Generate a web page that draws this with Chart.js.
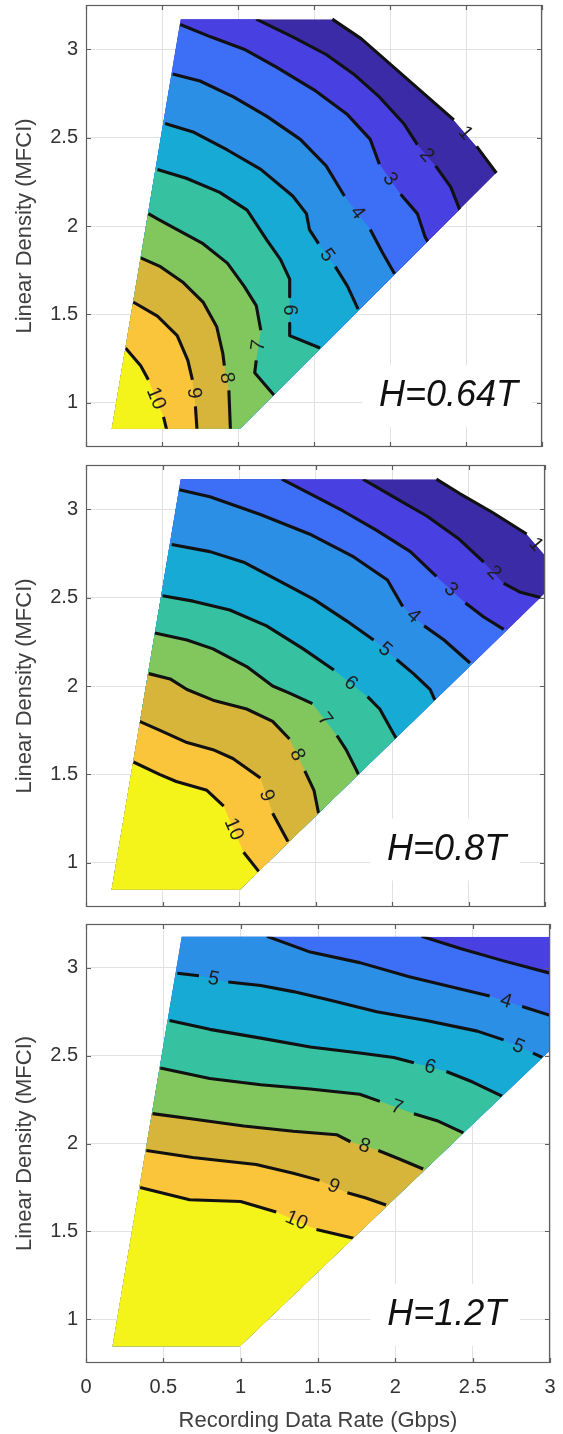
<!DOCTYPE html>
<html>
<head>
<meta charset="utf-8">
<script src="https://cdn.jsdelivr.net/npm/chart.js@4.4.1/dist/chart.umd.min.js"></script>
<style>
html,body{margin:0;padding:0;background:#ffffff;}
body{width:563px;height:1434px;position:relative;overflow:hidden;}
canvas{position:absolute;left:0;display:block;}
</style>
</head>
<body>
<canvas id="c1" width="563" height="455" style="top:0px;width:563px;height:455px"></canvas>
<canvas id="c2" width="563" height="455" style="top:458px;width:563px;height:455px"></canvas>
<canvas id="c3" width="563" height="517" style="top:917px;width:563px;height:517px"></canvas>
<script>
// ---------------- data ----------------
const xTicks = [0, 0.5, 1, 1.5, 2, 2.5, 3];
const yTicks = [1, 1.5, 2, 2.5, 3];

// H = 0.64 T : data domain and contour lines (null = label gap)
const p1Domain = [[0.17,0.853],[1.013,0.853],[2.70,2.30],[2.57,2.45],[2.42,2.60],[1.81,3.06],[1.62,3.17],[0.623,3.17]];
const p1Levels = [1,2,3,4,5,6,7,8,9,10];
const p1c1  = [[1.62,3.17],[1.81,3.06],[2.42,2.60],null,[2.57,2.45],[2.70,2.30]];
const p1c2  = [[1.12,3.17],[1.36,3.07],[1.58,2.97],[1.76,2.86],[1.93,2.73],[2.09,2.58],[2.18,2.46],null,[2.30,2.34],[2.40,2.22],[2.46,2.09]];
const p1c3  = [[0.62,3.14],[0.82,3.07],[1.04,3.00],[1.25,2.90],[1.50,2.77],[1.72,2.63],[1.87,2.49],[1.93,2.35],null,[2.07,2.18],[2.18,2.07],[2.23,1.94],[2.25,1.91]];
const p1c4  = [[0.57,2.86],[0.75,2.82],[0.97,2.73],[1.19,2.62],[1.41,2.49],[1.58,2.34],[1.70,2.17],null,[1.87,1.98],[1.95,1.85],[2.03,1.73]];
const p1c5  = [[0.52,2.58],[0.71,2.53],[0.93,2.43],[1.15,2.32],[1.36,2.17],[1.45,2.07],[1.47,1.98],[1.53,1.90],null,[1.64,1.77],[1.72,1.66],[1.79,1.53]];
const p1c6  = [[0.47,2.32],[0.66,2.27],[0.88,2.19],[1.06,2.09],[1.19,1.92],[1.28,1.81],[1.34,1.70],[1.34,1.60],null,[1.34,1.45],[1.34,1.38],[1.54,1.31]];
const p1c7  = [[0.41,2.07],[0.47,2.04],[0.60,1.98],[0.77,1.90],[0.93,1.79],[1.04,1.66],[1.12,1.55],[1.15,1.41],null,[1.12,1.24],[1.11,1.17],[1.24,1.04]];
const p1c8  = [[0.36,1.82],[0.49,1.77],[0.64,1.68],[0.77,1.57],[0.86,1.43],[0.90,1.28],[0.91,1.21],null,[0.94,1.07],[0.95,0.85]];
const p1c9  = [[0.31,1.57],[0.47,1.49],[0.60,1.38],[0.67,1.24],[0.70,1.13],null,[0.72,0.98],[0.73,0.85]];
const p1c10 = [[0.26,1.31],[0.36,1.21],[0.41,1.13],null,[0.51,0.92],[0.53,0.85]];

// H = 0.8 T
const p2Domain = [[0.168,0.849],[1.007,0.849],[3.0,2.525],[3.0,2.74],[2.88,2.86],[2.66,2.98],[2.44,3.09],[2.29,3.17],[0.619,3.17]];
const p2Levels = [1,2,3,4,5,6,7,8,9,10];
const p2c1  = [[2.29,3.17],[2.44,3.09],[2.66,2.98],[2.88,2.86],null,[3.0,2.74]];
const p2c2  = [[1.81,3.17],[2.01,3.07],[2.23,2.96],[2.44,2.83],[2.60,2.70],null,[2.73,2.58],[2.84,2.53],[2.97,2.50]];
const p2c3  = [[1.28,3.17],[1.46,3.09],[1.68,2.99],[1.90,2.88],[2.12,2.76],[2.29,2.62],null,[2.48,2.47],[2.60,2.39],[2.73,2.32]];
const p2c4  = [[0.61,3.11],[0.81,3.07],[1.14,2.97],[1.46,2.86],[1.75,2.73],[1.97,2.60],[2.07,2.45],null,[2.21,2.34],[2.34,2.26],[2.51,2.13]];
const p2c5  = [[0.56,2.80],[0.81,2.76],[1.03,2.70],[1.25,2.60],[1.49,2.49],[1.70,2.37],[1.88,2.26],null,[2.03,2.15],[2.14,2.07],[2.25,1.98],[2.28,1.92]];
const p2c6  = [[0.50,2.51],[0.70,2.48],[0.94,2.43],[1.18,2.34],[1.42,2.21],[1.62,2.09],null,[1.84,1.94],[1.92,1.87],[2.01,1.73],[2.03,1.70]];
const p2c7  = [[0.45,2.30],[0.66,2.26],[0.83,2.21],[1.05,2.11],[1.22,2.00],[1.33,1.96],[1.48,1.90],null,[1.64,1.72],[1.70,1.64],[1.77,1.52],[1.78,1.50]];
const p2c8  = [[0.41,2.07],[0.55,2.04],[0.66,1.98],[0.83,1.92],[1.05,1.87],[1.22,1.80],[1.33,1.70],null,[1.43,1.52],[1.49,1.41],[1.52,1.28]];
const p2c9  = [[0.35,1.80],[0.48,1.75],[0.66,1.68],[0.83,1.64],[0.96,1.59],[1.14,1.48],null,[1.22,1.28],[1.32,1.12]];
const p2c10 = [[0.31,1.57],[0.48,1.50],[0.59,1.46],[0.79,1.41],[0.90,1.32],null,[1.03,1.06],[1.13,0.95]];

// H = 1.2 T
const p3Domain = [[0.172,0.845],[0.995,0.845],[3.0,2.53],[3.0,3.178],[0.619,3.178]];
const p3Levels = [3,4,5,6,7,8,9,10];
const p3c3  = [[2.17,3.18],[2.42,3.11],[2.70,3.04],[3.0,2.97]];
const p3c4  = [[1.17,3.18],[1.45,3.09],[1.77,3.03],[2.09,2.95],[2.42,2.88],[2.61,2.84],null,[2.82,2.78],[3.0,2.73]];
const p3c5  = [[0.59,2.97],[0.73,2.955],null,[0.92,2.92],[1.13,2.90],[1.34,2.865],[1.56,2.82],[1.88,2.75],[2.20,2.70],[2.53,2.64],[2.70,2.59],null,[2.89,2.515],[2.95,2.49]];
const p3c6  = [[0.54,2.70],[0.80,2.65],[1.13,2.60],[1.45,2.55],[1.77,2.515],[1.99,2.49],[2.12,2.46],null,[2.33,2.41],[2.50,2.35],[2.69,2.27]];
const p3c7  = [[0.48,2.43],[0.80,2.37],[1.13,2.335],[1.45,2.31],[1.77,2.28],[1.90,2.24],null,[2.12,2.17],[2.27,2.13],[2.44,2.06]];
const p3c8  = [[0.43,2.17],[0.69,2.14],[1.02,2.10],[1.34,2.07],[1.62,2.05],[1.71,2.01],null,[1.89,1.96],[2.03,1.91],[2.18,1.855]];
const p3c9  = [[0.39,1.96],[0.69,1.92],[1.10,1.88],[1.34,1.83],[1.51,1.79],null,[1.69,1.72],[1.81,1.69],[1.94,1.65]];
const p3c10 = [[0.35,1.75],[0.67,1.68],[1.00,1.67],[1.23,1.61],null,[1.49,1.51],[1.73,1.46]];

// ---------------- style ----------------
const FONT = '"Liberation Sans", Arial, Helvetica, sans-serif';
// band colour for values between level L and L+1 (index L-1), parula-like
const bandColors = ['#3c2ba6','#4840e0','#3c6ff5','#2b8fe6','#16aad4','#36c2a0','#82c75e','#d7b43a','#fbc53b','#f4f31a'];

const panels = [
  {id:'c1', top:0,   height:455, plotTop:5,   plotBottom:447,  plotRight:542, domain:p1Domain, base:1,
   levels:p1Levels, lines:[p1c1,p1c2,p1c3,p1c4,p1c5,p1c6,p1c7,p1c8,p1c9,p1c10], edge:[1],
   label:'H=0.64T', labelAt:[2.385,1.038], showX:false},
  {id:'c2', top:458, height:455, plotTop:465, plotBottom:907,  plotRight:545, domain:p2Domain, base:1,
   levels:p2Levels, lines:[p2c1,p2c2,p2c3,p2c4,p2c5,p2c6,p2c7,p2c8,p2c9,p2c10], edge:[1],
   label:'H=0.8T', labelAt:[2.357,1.075], showX:false},
  {id:'c3', top:917, height:517, plotTop:924, plotBottom:1363, plotRight:550, domain:p3Domain, base:2,
   levels:p3Levels, lines:[p3c3,p3c4,p3c5,p3c6,p3c7,p3c8,p3c9,p3c10], edge:[],
   label:'H=1.2T', labelAt:[2.332,1.024], showX:true}
];

function toPts(arr){ return arr.map(p => p ? {x:p[0], y:p[1]} : {x:null, y:null}); }

// region where value > level : contour line closed round the lower-left (outside the domain, then clipped)
function fillPoly(line){
  const pts = line.filter(Boolean).map(p => [p[0], p[1]]);
  const S = pts[0], E = pts[pts.length-1];
  const poly = pts.slice();
  if (E[1] <= 0.87) poly.push([E[0], -5]);
  else { poly.push([E[0]+10, E[1]]); poly.push([E[0]+10, -5]); }
  poly.push([-5, -5]);
  if (S[1] >= 3.15) { poly.push([-5, 10]); poly.push([S[0], 10]); }
  else poly.push([-5, S[1]]);
  poly.push([S[0], S[1]]);
  return poly;
}

function clipDomain(chart, domain){
  const ctx = chart.ctx, xs = chart.scales.x, ys = chart.scales.y;
  ctx.beginPath();
  domain.forEach((p,i) => {
    const X = xs.getPixelForValue(p[0]), Y = ys.getPixelForValue(p[1]);
    if (i === 0) ctx.moveTo(X, Y); else ctx.lineTo(X, Y);
  });
  ctx.closePath();
  ctx.clip();
}

function noPad(s){ s.paddingTop = 0; s.paddingBottom = 0; s.paddingLeft = 0; s.paddingRight = 0; }

function makePlugin(P){
  return {
    id: 'contour_' + P.id,
    beforeDatasetsDraw(chart){ chart.ctx.save(); clipDomain(chart, P.domain); },
    beforeDatasetDraw(chart, args){ if (chart.data.datasets[args.index].noClip) chart.ctx.restore(); },
    afterDatasetDraw(chart, args){ if (chart.data.datasets[args.index].noClip){ chart.ctx.save(); clipDomain(chart, P.domain); } },
    afterDatasetsDraw(chart){
      const ctx = chart.ctx; ctx.restore();
      const xs = chart.scales.x, ys = chart.scales.y;
      ctx.save();
      ctx.font = '20px ' + FONT;
      ctx.fillStyle = '#1e1e1e';
      ctx.textAlign = 'center'; ctx.textBaseline = 'middle';
      P.lines.forEach((line, k) => {
        const level = P.levels[k];
        for (let i = 1; i < line.length - 1; i++){
          if (line[i] !== null) continue;
          const a = line[i-1], b = line[i+1];
          const ax = xs.getPixelForValue(a[0]), ay = ys.getPixelForValue(a[1]);
          const bx = xs.getPixelForValue(b[0]), by = ys.getPixelForValue(b[1]);
          let ang = Math.atan2(by - ay, bx - ax);
          if (ang > Math.PI/2) ang -= Math.PI;
          if (ang < -Math.PI/2) ang += Math.PI;
          ctx.save();
          ctx.translate((ax+bx)/2, (ay+by)/2);
          ctx.rotate(ang);
          ctx.fillText(String(level), 0, 0);
          ctx.restore();
        }
      });
      ctx.restore();
    },
    afterDraw(chart){
      const ctx = chart.ctx, xs = chart.scales.x, ys = chart.scales.y, a = chart.chartArea;
      ctx.save();
      ctx.font = 'italic 36px ' + FONT;
      const w = ctx.measureText(P.label).width;
      const cx = xs.getPixelForValue(P.labelAt[0]), cy = ys.getPixelForValue(P.labelAt[1]);
      ctx.fillStyle = '#ffffff';
      ctx.fillRect(cx - w/2 - 17, cy - 31, w + 31, 62);
      ctx.fillStyle = '#111111';
      ctx.textAlign = 'center'; ctx.textBaseline = 'middle';
      ctx.fillText(P.label, cx, cy);
      ctx.restore();
      ctx.save();
      ctx.strokeStyle = '#5e5e5e'; ctx.lineWidth = 1.2;
      ctx.strokeRect(a.left + 0.5, a.top + 0.5, a.right - a.left - 1, a.bottom - a.top - 1);
      ctx.beginPath();
      xTicks.forEach(v => {
        const X = Math.round(xs.getPixelForValue(v)) + 0.5;
        ctx.moveTo(X, a.bottom); ctx.lineTo(X, a.bottom - 5);
        ctx.moveTo(X, a.top); ctx.lineTo(X, a.top + 5);
      });
      yTicks.forEach(v => {
        const Y = Math.round(ys.getPixelForValue(v)) + 0.5;
        ctx.moveTo(a.left, Y); ctx.lineTo(a.left + 5, Y);
        ctx.moveTo(a.right, Y); ctx.lineTo(a.right - 5, Y);
      });
      ctx.stroke();
      ctx.restore();
    }
  };
}

Chart.defaults.font.family = FONT;

panels.forEach(P => {
  const seq = [];
  const closedDomain = P.domain.concat([P.domain[0]]);
  seq.push({data: toPts(closedDomain), fill: 'shape', backgroundColor: bandColors[P.base-1],
            borderColor: 'rgba(0,0,0,0)', borderWidth: 0});
  P.levels.forEach((L, k) => {
    if (L <= P.base) return;
    seq.push({data: toPts(fillPoly(P.lines[k])), fill: 'shape', backgroundColor: bandColors[L-1],
              borderColor: 'rgba(0,0,0,0)', borderWidth: 0});
  });
  const clippedLines = [], edgeLines = [];
  P.levels.forEach((L, k) => {
    const ds = {data: toPts(P.lines[k]), fill: false, borderColor: '#111111', borderWidth: 3.1,
                borderCapStyle: 'butt', borderJoinStyle: 'round', spanGaps: false};
    if (P.edge.indexOf(L) >= 0) { ds.noClip = true; edgeLines.push(ds); } else clippedLines.push(ds);
  });
  const all = seq.concat(clippedLines, edgeLines);
  all.forEach((d, i) => {
    d.order = 1000 - i; d.pointRadius = 0; d.pointHoverRadius = 0; d.tension = 0;
  });

  const xAxisH = P.top + P.height - P.plotBottom;
  new Chart(document.getElementById(P.id), {
    type: 'line',
    data: {datasets: all},
    options: {
      responsive: false,
      animation: false,
      events: [],
      devicePixelRatio: 1,
      layout: {padding: {top: P.plotTop - P.top, right: 563 - P.plotRight, left: 0, bottom: 0}},
      plugins: {legend: {display: false}, tooltip: {enabled: false}},
      scales: {
        x: {
          type: 'linear', min: 0, max: 3,
          afterBuildTicks: s => { s.ticks = xTicks.map(v => ({value: v})); },
          afterFit: s => { s.height = xAxisH; noPad(s); },
          grid: {color: '#e2e2e2', lineWidth: 1, drawTicks: false},
          border: {display: false},
          ticks: {display: P.showX, padding: 12, color: '#333333', font: {size: 20},
                  maxRotation: 0, autoSkip: false, callback: v => String(v)},
          title: {display: P.showX, text: 'Recording Data Rate (Gbps)', color: '#404040',
                  font: {size: 22}, padding: {top: 0, bottom: 0}}
        },
        y: {
          type: 'linear', min: 0.75, max: 3.25,
          afterBuildTicks: s => { s.ticks = yTicks.map(v => ({value: v})); },
          afterFit: s => { s.width = 86; noPad(s); },
          grid: {color: '#e2e2e2', lineWidth: 1, drawTicks: false},
          border: {display: false},
          ticks: {padding: 8, color: '#333333', font: {size: 20}, autoSkip: false, callback: v => String(v)},
          title: {display: true, text: 'Linear Density (MFCI)', color: '#404040',
                  font: {size: 22}, padding: {top: 12, bottom: 0}}
        }
      }
    },
    plugins: [makePlugin(P)]
  });
});
</script>
</body>
</html>
